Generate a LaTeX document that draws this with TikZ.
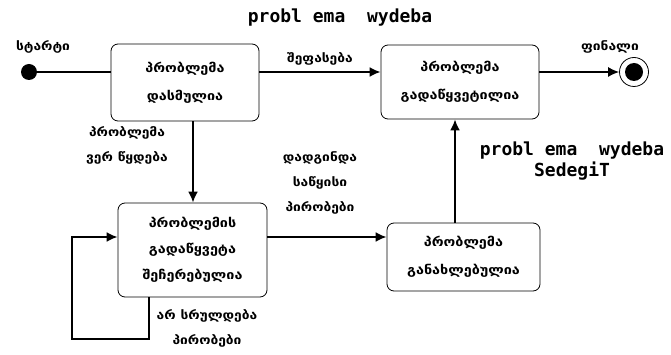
\documentclass[tikz,border=0pt]{standalone}
\usepackage{fontspec}
\usetikzlibrary{arrows.meta}
\newfontfamily\geo[FakeStretch=1.15]{DejaVu Sans}
\newfontfamily\lat{DejaVu Sans Mono}
\tikzset{
  statebox/.style={draw, rounded corners=7pt, line width=0.8pt, align=center, inner sep=0pt,
    font=\geo\bfseries\fontsize{12.5}{28}\selectfont},
  lbl/.style={align=center, inner sep=0pt, font=\geo\bfseries\fontsize{12}{25}\selectfont},
  latlbl/.style={align=center, inner sep=0pt, font=\lat\bfseries\fontsize{18}{21}\selectfont},
  arr/.style={line width=2pt, -{Latex[length=11pt,width=10pt]}},
  thin/.style={line width=1.3pt}
}
\begin{document}
\begin{tikzpicture}[x=1pt,y=-1pt]
\useasboundingbox (0,0) rectangle (671,355);
% title
\node[latlbl] (title) at (340,18) {probl ema\ \ wydeba};
% start
\node[circle, fill=black, minimum size=16pt, inner sep=0pt] (start) at (29,72) {};
\node[lbl] (startl) at (43,47) {სტარტი};
% final
\node[circle, draw, line width=0.8pt, minimum size=29pt, inner sep=0pt] (final) at (634,72) {};
\node[circle, fill=black, minimum size=18pt, inner sep=0pt] (finalin) at (634,72) {};
\node[lbl] (finall) at (610,47) {ფინალი};
% boxes
\node[statebox, minimum width=148pt, minimum height=77pt] (b1) at (185,82.5) {პრობლემა\\დასმულია};
\node[statebox, minimum width=158pt, minimum height=74pt] (b2) at (460,82) {პრობლემა\\გადაწყვეტილია};
\node[statebox, minimum width=149pt, minimum height=94pt, font=\geo\bfseries\fontsize{12.5}{26}\selectfont] (b3) at (192.5,250) {პრობლემის\\გადაწყვეტა\\შეჩერებულია};
\node[statebox, minimum width=153pt, minimum height=68pt] (b4) at (463.5,257) {პრობლემა\\განახლებულია};
% connectors
\draw[thin] (start) -- (b1.west |- start);
\draw[arr] (b1.east |- 0,72) -- node[lbl, above=6pt] (l12) {შეფასება} (b2.west |- 0,72);
\draw[thin, -{Latex[length=11pt,width=10pt]}] (b2.east |- 0,72) -- (final.west);
\draw[arr] (b1.south -| 193,0) -- (b3.north -| 193,0);
\node[lbl] (l13) at (127,145) {პრობლემა\\ვერ წყდება};
\draw[arr] (b3.east |- 0,237) -- (b4.west |- 0,237);
\node[lbl] (l34) at (320,183) {დადგინდა\\საწყისი\\პირობები};
\draw[arr] (b4.north -| 455,0) -- (b2.south -| 455,0);
\node[latlbl] (l42) at (572,161) {probl ema\ \ wydeba\\SedegiT};
% self loop
\coordinate (lp1) at (149,339);
\coordinate (lp2) at (72,339);
\coordinate (lp3) at (72,237);
\draw[arr] (b3.south -| 149,0) -- (lp1) -- (lp2) -- (lp3) -- (b3.west |- lp3);
\node[lbl] (lself) at (207,328) {არ სრულდება\\პირობები};
\end{tikzpicture}
\end{document}
